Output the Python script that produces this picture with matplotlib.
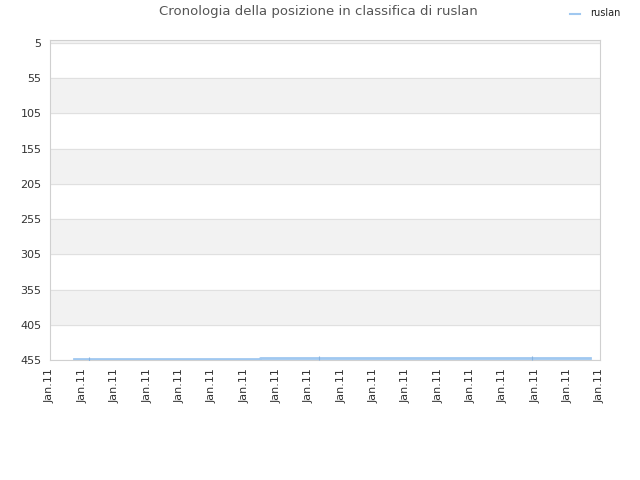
import numpy as np
import matplotlib.pyplot as plt

# data (x in tick units, one tick per "Jan.11" label)
dates = [0.74, 1.2, 3.0, 6.5, 8.3, 14.9, 16.7]
ranks = [454, 454, 453, 452, 452, 452, 452]
tick_labels = ['Jan.11'] * 18
y_ticks = [5, 55, 105, 155, 205, 255, 305, 355, 405, 455]

fig = plt.figure(figsize=(6.4, 4.8), dpi=100)
ax = fig.add_axes([50 / 640, 1 - 360 / 480, 550 / 640, 320 / 480])

# alternating bands
ax.axhspan(1, 5, color='#f2f2f2', zorder=0)
for i in range(1, len(y_ticks) - 1, 2):
    ax.axhspan(y_ticks[i], y_ticks[i + 1], color='#f2f2f2', zorder=0)
for y in y_ticks:
    ax.axhline(y, color='#e0e0e0', lw=0.8, zorder=1)

ax.plot(dates, ranks, color='#a0c8f0', lw=2, drawstyle='steps-post', zorder=3)
ax.plot([dates[1], dates[4], dates[5]], [ranks[1], ranks[4], ranks[5]], ls='none',
        marker='|', ms=2.5, mew=0.8, color='#88b4e0', zorder=4)

ax.set_xlim(0, 17)
ax.set_ylim(455, 1)
ax.set_yticks(y_ticks)
ax.set_yticklabels([str(v) for v in y_ticks], fontsize=8, color='#333333')
ax.set_xticks(np.arange(len(tick_labels)))
ax.set_xticklabels(tick_labels, rotation=90, fontsize=8, color='#333333')
ax.tick_params(length=0, pad=6)
for s in ax.spines.values():
    s.set_color('#d0d0d0')

fig.text(318 / 640, 1 - 12 / 480, 'Cronologia della posizione in classifica di ruslan',
         ha='center', va='center', fontsize=9.5, color='#555555')
fig.add_artist(plt.Line2D([570 / 640, 580 / 640], [1 - 14 / 480] * 2, color='#a0c8f0', lw=1.5))
fig.text(590 / 640, 1 - 13 / 480, 'ruslan', ha='left', va='center', fontsize=7, color='#222222')

fig.savefig('out.png', dpi=100)
